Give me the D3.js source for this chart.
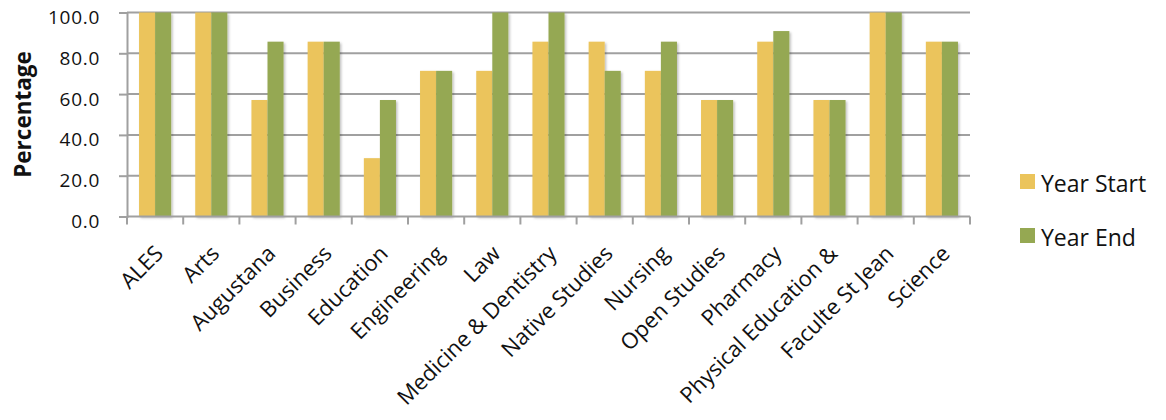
<!DOCTYPE html>
<html>
<head>
<meta charset="utf-8">
<script src="https://cdn.jsdelivr.net/npm/d3@7"></script>
<style>
  html, body { margin: 0; padding: 0; background: #fff; }
  svg { display: block; font-family: "Open Sans", Lato, sans-serif; }
</style>
</head>
<body>
<svg id="chart" width="1166" height="420"></svg>
<script>
// Faculties on the category axis
const categories = [
  "ALES", "Arts", "Augustana", "Business", "Education", "Engineering", "Law",
  "Medicine & Dentistry", "Native Studies", "Nursing", "Open Studies", "Pharmacy",
  "Physical Education &", "Faculte St Jean", "Science"
];
// Percentage values per faculty
const yearStart = [100, 100, 57.1, 85.7, 28.6, 71.4, 71.4, 85.7, 85.7, 71.4, 57.1, 85.7, 57.1, 100, 85.7];
const yearEnd   = [100, 100, 85.7, 85.7, 57.1, 71.4, 100, 100, 71.4, 85.7, 57.1, 90.9, 57.1, 100, 85.7];
const seriesNames = ["Year Start", "Year End"];
const seriesColors = ["#EBC45B", "#95A852"];
const yTicks = [0, 20, 40, 60, 80, 100];

const svg = d3.select("#chart");
const plotLeft = 127, plotRight = 970, plotTop = 12.5, plotBottom = 216.5;

const x = d3.scaleBand().domain(categories).range([plotLeft, plotRight]).paddingInner(0.4286).paddingOuter(0.2143);
const xs = d3.scaleBand().domain(seriesNames).range([0, x.bandwidth()]);
const y = d3.scaleLinear().domain([0, 100]).range([plotBottom, plotTop]);

// soft shadow under bars
const defs = svg.append("defs");
const f = defs.append("filter").attr("id", "shadow").attr("x", "-20%").attr("y", "-5%").attr("width", "150%").attr("height", "115%");
f.append("feDropShadow").attr("dx", 1.5).attr("dy", 1.5).attr("stdDeviation", 1.2).attr("flood-color", "#000").attr("flood-opacity", 0.25);

// gridlines
svg.append("g").selectAll("line").data(yTicks.filter(d => d > 0)).join("line")
  .attr("x1", plotLeft).attr("x2", plotRight)
  .attr("y1", d => y(d)).attr("y2", d => y(d))
  .attr("stroke", "#A0A0A0").attr("stroke-width", 2);

// bars
const rows = categories.map((c, i) => ({ c, vals: [yearStart[i], yearEnd[i]] }));
const groups = svg.append("g").selectAll("g").data(rows).join("g")
  .attr("transform", d => `translate(${x(d.c)},0)`);
groups.selectAll("rect").data(d => d.vals.map((v, k) => ({ v, k }))).join("rect")
  .attr("x", d => xs(seriesNames[d.k]))
  .attr("width", xs.bandwidth())
  .attr("y", d => y(d.v))
  .attr("height", d => y(0) - y(d.v))
  .attr("fill", d => seriesColors[d.k])
  .attr("filter", "url(#shadow)");

// y axis; labels sit just below their gridline
const yAxis = svg.append("g").attr("transform", `translate(${plotLeft},0)`)
  .call(d3.axisLeft(y).tickValues(yTicks).tickFormat(d3.format(".1f")).tickSize(8).tickPadding(19));
yAxis.select(".domain").attr("stroke", "#A0A0A0").attr("stroke-width", 2);
yAxis.selectAll(".tick line").attr("stroke", "#A0A0A0").attr("stroke-width", 2);
yAxis.selectAll(".tick text").attr("font-size", 19).attr("fill", "#111")
  .attr("dy", 11)
  .attr("font-family", "'Open Sans', sans-serif").attr("letter-spacing", 0.7);

// x axis: ticks at category boundaries
const xAxisG = svg.append("g").attr("transform", `translate(0,${plotBottom})`);
xAxisG.append("line").attr("x1", plotLeft).attr("x2", plotRight).attr("stroke", "#A0A0A0").attr("stroke-width", 2);
const bounds = d3.range(categories.length + 1).map(i => plotLeft + i * (plotRight - plotLeft) / categories.length);
xAxisG.selectAll("line.b").data(bounds).join("line").attr("class", "b")
  .attr("x1", d => d).attr("x2", d => d).attr("y1", 0).attr("y2", 8)
  .attr("stroke", "#A0A0A0").attr("stroke-width", 2);
xAxisG.selectAll("text").data(categories).join("text")
  .attr("transform", d => `translate(${x(d) + x.bandwidth() / 2 + 4},${33}) rotate(-45)`)
  .attr("text-anchor", "end")
  .attr("dy", "0.35em")
  .attr("font-size", 22)
  .attr("fill", "#111")
  .text(d => d);

// y title
svg.append("text")
  .attr("transform", `translate(31,${(plotTop + plotBottom) / 2}) rotate(-90)`)
  .attr("text-anchor", "middle")
  .attr("font-size", 22.5).attr("font-weight", "bold").attr("fill", "#111")
  .text("Percentage");

// legend
const legend = svg.append("g").selectAll("g").data(seriesNames).join("g")
  .attr("transform", (d, i) => `translate(1020,${174 + i * 54})`);
legend.append("rect").attr("width", 15).attr("height", 15).attr("fill", (d, i) => seriesColors[i]);
legend.append("text").attr("x", 21).attr("y", 17.5).attr("font-size", 23).attr("fill", "#111").text(d => d);
</script>
</body>
</html>
